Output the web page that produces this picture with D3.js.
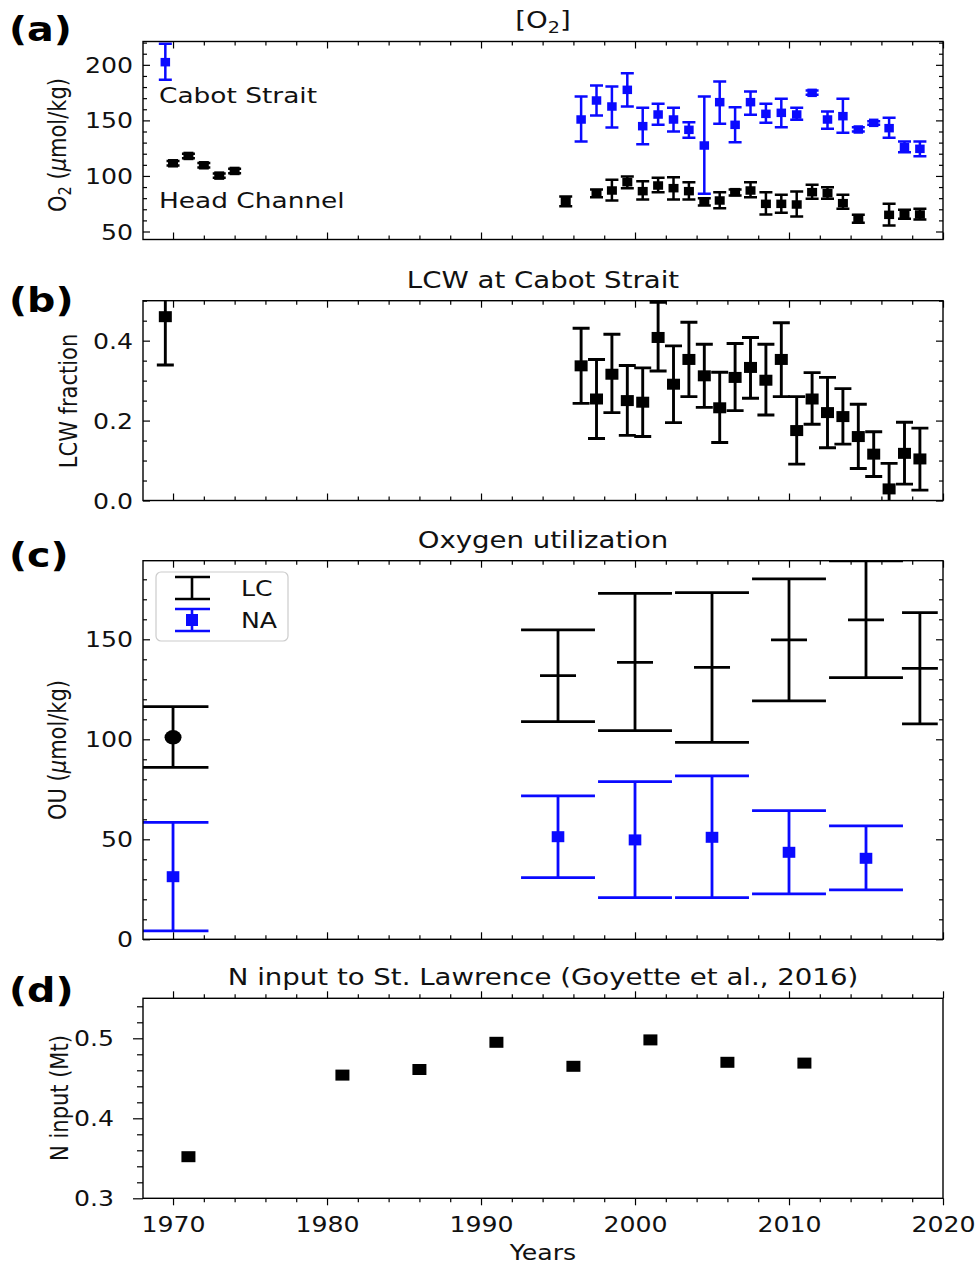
<!DOCTYPE html>
<html><head><meta charset="utf-8">
<script src="https://cdn.jsdelivr.net/npm/d3@7"></script>
<style>body{margin:0;background:#fff}</style>
</head><body><svg id="chart" width="979" height="1264" xmlns="http://www.w3.org/2000/svg"></svg>
<script>
// ---------------- DATA ----------------
// (a) O2 at Cabot Strait (blue) and Head Channel (black)
const cabotYears = [1969.5,1996.5,1997.5,1998.5,1999.5,2000.5,2001.5,2002.5,2003.5,2004.5,2005.5,2006.5,2007.5,2008.5,2009.5,2010.5,2011.5,2012.5,2013.5,2014.5,2015.5,2016.5,2017.5,2018.5];
const cabotO2   = [202.4,150.8,167.9,162.5,177.5,144.8,155.3,150.8,141.5,127.4,166.4,146.0,166.4,155.9,156.8,155.3,174.8,150.8,153.8,141.8,147.8,143.0,125.9,124.4];
const cabotO2Hi = [218.9,171.5,181.4,180.5,192.5,161.3,164.9,161.3,148.4,171.5,185.0,161.9,176.0,164.9,169.4,161.3,176.9,158.0,169.4,143.9,149.3,152.3,131.0,131.0];
const cabotO2Lo = [186.5,131.0,154.4,143.6,162.5,128.6,146.0,140.0,134.3,83.9,146.9,130.4,155.0,147.8,143.9,150.5,173.0,142.4,138.8,140.0,146.0,134.3,121.4,117.8];

const headYears = [1970,1971,1972,1973,1974,1995.5,1997.5,1998.5,1999.5,2000.5,2001.5,2002.5,2003.5,2004.5,2005.5,2006.5,2007.5,2008.5,2009.5,2010.5,2011.5,2012.5,2013.5,2014.5,2016.5,2017.5,2018.5];
const headO2   = [111.4,118.0,109.6,100.3,104.5,77.3,84.5,86.9,94.4,86.3,91.4,89.0,86.3,77.0,77.9,85.4,86.9,74.9,74.9,74.3,85.4,84.5,75.5,62.0,65.0,65.3,65.3];
const headO2Hi = [113.4,120.0,111.6,102.3,106.5,81.5,87.8,96.5,99.5,95.3,98.3,98.9,94.4,80.0,85.4,87.8,94.4,85.4,83.0,86.0,92.0,89.9,83.0,65.0,74.9,69.5,70.4];
const headO2Lo = [109.4,116.0,107.6,98.3,102.5,72.8,80.9,77.9,89.0,78.8,85.4,78.8,78.8,73.4,71.0,82.4,80.9,65.3,66.8,63.5,79.4,79.4,70.4,57.8,55.4,61.4,60.8];

// (b) LCW fraction at Cabot Strait
const lcwYears = [1969.5,1996.5,1997.5,1998.5,1999.5,2000.5,2001.5,2002.5,2003.5,2004.5,2005.5,2006.5,2007.5,2008.5,2009.5,2010.5,2011.5,2012.5,2013.5,2014.5,2015.5,2016.5,2017.5,2018.5];
const lcw   = [0.46,0.337,0.254,0.316,0.25,0.246,0.408,0.291,0.353,0.312,0.232,0.308,0.333,0.301,0.353,0.175,0.254,0.22,0.21,0.16,0.116,0.029,0.118,0.104];
const lcwHi = [0.58,0.431,0.353,0.416,0.338,0.332,0.496,0.387,0.446,0.391,0.321,0.393,0.408,0.391,0.445,0.26,0.32,0.308,0.28,0.241,0.172,0.093,0.196,0.181];
const lcwLo = [0.339,0.243,0.155,0.22,0.163,0.16,0.324,0.195,0.26,0.233,0.145,0.225,0.256,0.214,0.26,0.091,0.191,0.132,0.141,0.08,0.06,-0.035,0.041,0.026];

// (c) Oxygen utilization
const ouLcYears = [1970,1995,2000,2005,2010,2015,2018.5];
const ouLc      = [101,131.8,138.5,136,149.7,159.7,135.5];
const ouLcHi    = [116.3,154.7,173,173.3,180.2,189.2,163.3];
const ouLcLo    = [86,108.8,104.3,98.5,119.2,130.8,107.7];
const ouLcWindow= [2.3,2.4,2.4,2.4,2.4,2.4,1.16];   // half-width of averaging period (years)
const ouNaYears = [1970,1995,2000,2005,2010,2015];
const ouNa      = [31.3,51.3,49.7,51,43.5,40.5];
const ouNaHi    = [58.5,71.7,78.8,81.7,64.3,56.7];
const ouNaLo    = [4.2,30.8,20.8,20.8,22.7,24.7];
const ouNaWindow= [2.3,2.4,2.4,2.4,2.4,2.4];

// (d) N input
const nYears = [1971,1981,1986,1991,1996,2001,2006,2011];
const nInput = [0.352,0.454,0.461,0.495,0.465,0.498,0.470,0.469];

// tick labels
const xTickYears = [1970,1980,1990,2000,2010,2020];
const aTicks = [50,100,150,200];
const bTicks = [0.0,0.2,0.4];
const cTicks = [0,50,100,150];
const dTicks = [0.3,0.4,0.5];

// ---------------- SETUP ----------------
const SX = 1.2;               // horizontal stretch of the original figure
const FONT = "DejaVu Sans";
const BLUE = "#0a0aff";
const svg = d3.select("#chart");
const X0 = 143, X1 = 943;
const x = d3.scaleLinear().domain([1968.05, 2020]).range([X0, X1]);
const xMinor = d3.range(1968, 2021, 2).filter(v => v % 10 !== 0 && v > 1968);
let clipN = 0;

function makePanel(top, bottom, domain) {
  const y = d3.scaleLinear().domain(domain).range([bottom, top]);
  const id = "clip" + (clipN++);
  svg.append("clipPath").attr("id", id).append("rect")
    .attr("x", X0).attr("y", top).attr("width", X1 - X0).attr("height", bottom - top);
  const g = svg.append("g");
  const plot = g.append("g").attr("clip-path", `url(#${id})`);
  return {y, g, plot, top, bottom};
}

function stext(parent, px, py, str, o = {}) {
  const t = parent.append("text")
    .attr("transform", `translate(${px},${py}) scale(${SX},1)` + (o.rotate ? ` rotate(${o.rotate})` : ""))
    .attr("font-family", FONT).attr("font-size", o.size || 21)
    .attr("font-weight", o.weight || "normal")
    .attr("text-anchor", o.anchor || "start").attr("fill", o.fill || "#111");
  if (o.dy) t.attr("dy", o.dy);
  if (typeof str === "string") t.text(str);
  else str(t);
  return t;
}

function axes(p, o) {
  const s = o.dir === "in" ? -1 : 1;
  const MJ = 7, MN = 4;
  const add = (axis, tx, ty) => {
    const a = p.g.append("g").attr("transform", `translate(${tx},${ty})`).call(axis);
    a.select(".domain").remove();
    a.selectAll(".tick line").attr("stroke", "#000").attr("stroke-width", 1.2);
    return a;
  };
  const yl = add(d3.axisLeft(p.y).tickValues(o.yMajor).tickSize(s * MJ).tickFormat(o.fmt), X0, 0);
  yl.selectAll("text").attr("x", -o.yGap / SX).attr("dy", "0.36em")
    .attr("transform", `scale(${SX},1)`).attr("font-size", 21).attr("font-family", FONT).attr("fill", "#111");
  add(d3.axisLeft(p.y).tickValues(o.yMinor).tickSize(s * MN).tickFormat(""), X0, 0);
  if (o.right) {
    add(d3.axisRight(p.y).tickValues(o.yMajor).tickSize(s * MJ).tickFormat(""), X1, 0);
    add(d3.axisRight(p.y).tickValues(o.yMinor).tickSize(s * MN).tickFormat(""), X1, 0);
  }
  add(d3.axisBottom(x).tickValues(xTickYears).tickSize(s * MJ).tickFormat(""), 0, p.bottom);
  add(d3.axisBottom(x).tickValues(xMinor).tickSize(s * MN).tickFormat(""), 0, p.bottom);
  add(d3.axisTop(x).tickValues(xTickYears).tickSize(s * MJ).tickFormat(""), 0, p.top);
  add(d3.axisTop(x).tickValues(xMinor).tickSize(s * MN).tickFormat(""), 0, p.top);
  p.g.append("rect").attr("x", X0).attr("y", p.top).attr("width", X1 - X0).attr("height", p.bottom - p.top)
    .attr("fill", "none").attr("stroke", "#000").attr("stroke-width", 1.4);
}

function errBars(p, years, vals, lo, hi, color, capHalf, lw, mw, mh) {
  const g = p.plot.append("g").attr("stroke", color).attr("stroke-width", lw);
  years.forEach((yr, i) => {
    const cx = x(yr);
    g.append("line").attr("x1", cx).attr("x2", cx).attr("y1", p.y(lo[i])).attr("y2", p.y(hi[i]));
    [lo[i], hi[i]].forEach(v => g.append("line").attr("x1", cx - capHalf).attr("x2", cx + capHalf)
      .attr("y1", p.y(v)).attr("y2", p.y(v)));
  });
  p.plot.append("g").selectAll("rect").data(years).join("rect")
    .attr("x", d => x(d) - mw / 2).attr("y", (d, i) => p.y(vals[i]) - mh / 2)
    .attr("width", mw).attr("height", mh).attr("fill", color);
}

function title(p, str) {
  stext(svg, (X0 + X1) / 2, p.top - 13, str, {anchor: "middle", size: 23});
}
function panelLabel(str, px, py) {
  stext(svg, px, py, str, {size: 33, weight: "bold", fill: "#000"});
}
function ylabel(cx, cy, build) {
  stext(svg, cx, cy, build, {anchor: "middle", size: 21, rotate: -90, dy: "0.35em"});
}
const o2Unit = t => {
  t.append("tspan").text("O");
  t.append("tspan").attr("font-size", 14.5).attr("dy", 4).text("2");
  t.append("tspan").attr("dy", -4).text(" (");
  t.append("tspan").attr("font-style", "italic").text("\u03bc");
  t.append("tspan").text("mol/kg)");
};

// ---------------- PANEL (a) ----------------
const pa = makePanel(41.5, 239.5, [42.8, 221]);
errBars(pa, headYears, headO2, headO2Lo, headO2Hi, "#000", 6.5, 2.5, 10, 8.5);
errBars(pa, cabotYears, cabotO2, cabotO2Lo, cabotO2Hi, BLUE, 6.5, 2.5, 9.5, 8.5);
axes(pa, {dir: "in", yMajor: aTicks, yMinor: d3.range(60, 221, 10).filter(v => v % 50 !== 0),
  fmt: d3.format("d"), yGap: 10, right: true});
stext(svg, 159, 103, "Cabot Strait", {size: 22});
stext(svg, 159, 208, "Head Channel", {size: 22});
stext(svg, (X0 + X1) / 2, 28, t => {
  t.append("tspan").text("[O");
  t.append("tspan").attr("font-size", 16).attr("dy", 4.5).text("2");
  t.append("tspan").attr("dy", -4.5).text("]");
}, {anchor: "middle", size: 23});
panelLabel("(a)", 9, 41);
ylabel(57, 145, o2Unit);

// ---------------- PANEL (b) ----------------
const pb = makePanel(300.7, 500.5, [0, 0.5]);
errBars(pb, lcwYears, lcw, lcwLo, lcwHi, "#000", 8.5, 2.9, 13, 11);
axes(pb, {dir: "in", yMajor: bTicks, yMinor: [0.05,0.1,0.15,0.25,0.3,0.35,0.45,0.5],
  fmt: d3.format(".1f"), yGap: 10, right: true});
title(pb, "LCW at Cabot Strait");
panelLabel("(b)", 9, 312);
ylabel(68, 401, "LCW fraction");

// ---------------- PANEL (c) ----------------
const pc = makePanel(560.7, 939.3, [0, 189.3]);
(function () {
  const g = pc.plot.append("g").attr("stroke", "#000").attr("stroke-width", 2.8);
  ouLcYears.forEach((yr, i) => {
    const cx = x(yr);
    g.append("line").attr("x1", cx).attr("x2", cx).attr("y1", pc.y(ouLcLo[i])).attr("y2", pc.y(ouLcHi[i]));
    [ouLcLo[i], ouLcHi[i]].forEach(v => g.append("line")
      .attr("x1", x(yr - ouLcWindow[i])).attr("x2", x(yr + ouLcWindow[i]))
      .attr("y1", pc.y(v)).attr("y2", pc.y(v)));
    if (i === 0) {
      pc.plot.append("ellipse").attr("cx", cx).attr("cy", pc.y(ouLc[i])).attr("rx", 8.5).attr("ry", 7.2).attr("fill", "#000");
    } else {
      g.append("line").attr("x1", cx - 18).attr("x2", cx + 18).attr("y1", pc.y(ouLc[i])).attr("y2", pc.y(ouLc[i]));
    }
  });
  const gb = pc.plot.append("g").attr("stroke", BLUE).attr("stroke-width", 2.8);
  ouNaYears.forEach((yr, i) => {
    const cx = x(yr);
    gb.append("line").attr("x1", cx).attr("x2", cx).attr("y1", pc.y(ouNaLo[i])).attr("y2", pc.y(ouNaHi[i]));
    [ouNaLo[i], ouNaHi[i]].forEach(v => gb.append("line")
      .attr("x1", x(yr - ouNaWindow[i])).attr("x2", x(yr + ouNaWindow[i]))
      .attr("y1", pc.y(v)).attr("y2", pc.y(v)));
  });
  pc.plot.append("g").selectAll("rect").data(ouNaYears).join("rect")
    .attr("x", d => x(d) - 6.3).attr("y", (d, i) => pc.y(ouNa[i]) - 5.5)
    .attr("width", 12.6).attr("height", 11).attr("fill", BLUE);
})();
axes(pc, {dir: "in", yMajor: cTicks, yMinor: d3.range(10, 190, 10).filter(v => v % 50 !== 0),
  fmt: d3.format("d"), yGap: 10, right: true});
// legend
(function () {
  const lg = svg.append("g");
  lg.append("rect").attr("x", 156).attr("y", 572).attr("width", 132).attr("height", 69).attr("rx", 5)
    .attr("fill", "#fff").attr("fill-opacity", 0.8).attr("stroke", "#cccccc").attr("stroke-width", 1.2);
  const sym = (cy, color, marker) => {
    const s = lg.append("g").attr("stroke", color).attr("stroke-width", 2.6);
    s.append("line").attr("x1", 192).attr("x2", 192).attr("y1", cy - 11).attr("y2", cy + 11);
    s.append("line").attr("x1", 175).attr("x2", 210).attr("y1", cy - 11).attr("y2", cy - 11);
    s.append("line").attr("x1", 175).attr("x2", 210).attr("y1", cy + 11).attr("y2", cy + 11);
    if (marker) lg.append("rect").attr("x", 186).attr("y", cy - 6).attr("width", 12).attr("height", 12).attr("fill", color);
  };
  sym(588, "#000", false);
  sym(620, BLUE, true);
  stext(lg, 241, 596, "LC", {size: 21});
  stext(lg, 241, 628, "NA", {size: 21});
})();
title(pc, "Oxygen utilization");
panelLabel("(c)", 9, 567);
ylabel(57, 750, t => {
  t.append("tspan").text("OU (");
  t.append("tspan").attr("font-style", "italic").text("\u03bc");
  t.append("tspan").text("mol/kg)");
});

// ---------------- PANEL (d) ----------------
const pd = makePanel(998.3, 1198.3, [0.3, 0.55]);
pd.plot.append("g").selectAll("rect").data(nYears).join("rect")
  .attr("x", d => x(d) - 7).attr("y", (d, i) => pd.y(nInput[i]) - 5.5)
  .attr("width", 14).attr("height", 11).attr("fill", "#000");
(function () {
  const MJ = 7, MN = 4;
  const add = (axis, tx, ty) => {
    const a = pd.g.append("g").attr("transform", `translate(${tx},${ty})`).call(axis);
    a.select(".domain").remove();
    a.selectAll(".tick line").attr("stroke", "#000").attr("stroke-width", 1.2);
    return a;
  };
  const yl = add(d3.axisLeft(pd.y).tickValues(dTicks).tickSize(10).tickFormat(d3.format(".1f")), X0, 0);
  yl.selectAll("text").attr("x", -29 / SX).attr("dy", "0.36em")
    .attr("transform", `scale(${SX},1)`).attr("font-size", 21).attr("font-family", FONT).attr("fill", "#111");
  add(d3.axisLeft(pd.y).tickValues([0.32,0.34,0.36,0.38,0.42,0.44,0.46,0.48,0.52,0.54]).tickSize(6).tickFormat(""), X0, 0);
  const xb = add(d3.axisBottom(x).tickValues(xTickYears).tickSize(MJ).tickFormat(d3.format("d")), 0, pd.bottom);
  xb.selectAll("text").attr("y", 18).attr("dy", "0.73em")
    .attr("transform", `scale(${SX},1)`).attr("font-size", 21).attr("font-family", FONT).attr("fill", "#111");
  add(d3.axisBottom(x).tickValues(xMinor).tickSize(MN).tickFormat(""), 0, pd.bottom);
  add(d3.axisTop(x).tickValues(xTickYears).tickSize(MJ).tickFormat(""), 0, pd.top);
  add(d3.axisTop(x).tickValues(xMinor).tickSize(MN).tickFormat(""), 0, pd.top);
  pd.g.append("rect").attr("x", X0).attr("y", pd.top).attr("width", X1 - X0).attr("height", pd.bottom - pd.top)
    .attr("fill", "none").attr("stroke", "#000").attr("stroke-width", 1.4);
})();
title(pd, "N input to St. Lawrence (Goyette et al., 2016)");
panelLabel("(d)", 9, 1002);
ylabel(59, 1098, "N input (Mt)");
stext(svg, (X0 + X1) / 2, 1260, "Years", {anchor: "middle", size: 21});
</script></body></html>
